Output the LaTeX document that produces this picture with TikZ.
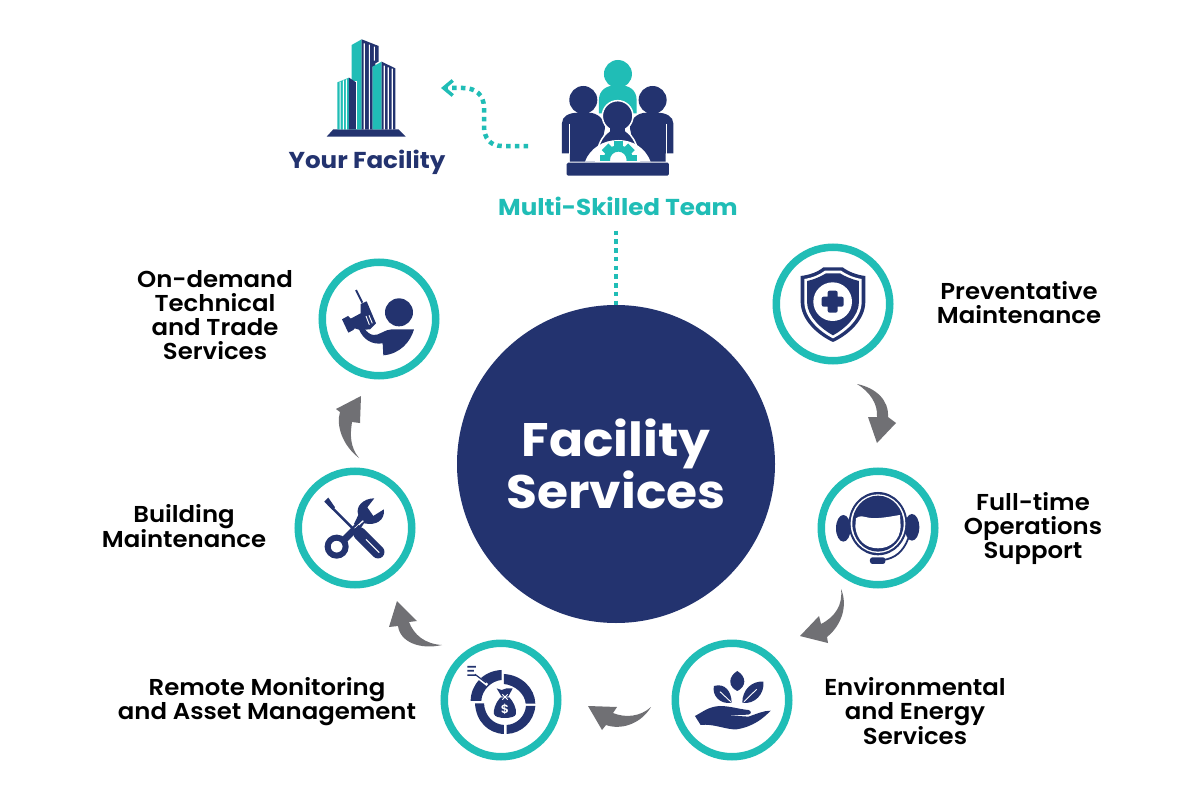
\documentclass[tikz,border=0pt]{standalone}
\usepackage{fontspec}
\setmainfont{Poppins}[FakeStretch=1.06, BoldFont={Poppins SemiBold}]
\newfontfamily\heavyfont{Poppins}[FakeStretch=1.07]
\usetikzlibrary{arrows.meta}
\definecolor{navy}{HTML}{23336F}
\definecolor{teal}{HTML}{20BDB6}
\definecolor{swoopgray}{HTML}{707074}
\tikzset{
	ring/.style={circle, draw=teal, line width=7.5pt, fill=white, minimum size=113.5pt, inner sep=0pt, outer sep=0pt},
	caption/.style={align=center, font=\bfseries\fontsize{23}{24}\selectfont, text=black, inner sep=0pt},
	headline/.style={align=center, font=\heavyfont\bfseries\fontsize{23}{24}\selectfont, inner sep=0pt},
	dotted line/.style={teal, line width=4.5pt, dash pattern=on 4.5pt off 4.25pt},
	swoop/.style={fill=swoopgray},
	icon/.style={fill=navy},
	gap/.style={draw=white, line width=1.3pt},
}
\begin{document}
\begin{tikzpicture}[x=1pt, y=-1pt]
	\useasboundingbox (0,0) rectangle (1200,800);
	\fill[white] (0,0) rectangle (1200,800);

	\node[circle, fill=navy, minimum size=318pt, inner sep=0pt, outer sep=0pt, align=center, text=white, font=\heavyfont\bfseries\fontsize{47}{52}\selectfont] (core) at (616,464) {Facility\\Services};

	\node[ring] (prevent) at (833,304) {};
	\node[ring] (support) at (878,528) {};
	\node[ring] (energy) at (732,700) {};
	\node[ring] (remote) at (501,700) {};
	\node[ring] (building) at (355,528) {};
	\node[ring] (trade) at (379,319) {};

	\node[caption] (preventtext) at (1019,303) {Preventative\\Maintenance};
	\node[caption] (supporttext) at (1033,529) {Full-time\\Operations\\Support};
	\node[caption] (energytext) at (915,711) {Environmental\\and Energy\\Services};
	\node[caption] (remotetext) at (267,702) {Remote Monitoring\\and Asset Management};
	\node[caption] (buildingtext) at (184,526) {Building\\Maintenance};
	\node[caption] (tradetext) at (215,315) {On-demand\\Technical\\and Trade\\Services};
	\node[headline, text=navy] (facilitytext) at (367,162) {Your Facility};
	\node[headline, text=teal] (teamtext) at (618,206) {Multi-Skilled Team};

	% dotted connectors
	\coordinate (teamout) at (528,146);
	\coordinate (facilityin) at (441,88);
	\coordinate (teamfoot) at (616,230.5);
	\draw[dotted line] (teamfoot) -- (core.north);
	\draw[dotted line, -{Straight Barb[length=9pt, width=15pt, line width=3.5pt]}] (teamout) -- (502,146) .. controls (490,146) and (484,138) .. (484,126) -- (484,108) .. controls (484,95) and (476,88) .. (463,88) -- (facilityin);

	% swoops between the rings
	\fill[swoop] (857,384) .. controls (876,388) and (889,400) .. (888,417) -- (896,423) -- (877,443) -- (868,417) -- (877,417) .. controls (878,404) and (870,392) .. (857,384) -- cycle;
	\fill[swoop] (841,589) .. controls (848,605) and (842,625) .. (827,637) -- (828,643) -- (800,636) -- (819,616) -- (821,624) .. controls (835,617) and (843,605) .. (841,589) -- cycle;
	\fill[swoop] (651,707) .. controls (640,725) and (620,730) .. (606,725) -- (602,730) -- (588,706) -- (617,707) -- (613,713) .. controls (625,718) and (640,717) .. (651,707) -- cycle;
	\fill[swoop] (442,645) .. controls (420,650) and (400,642) .. (398,626) -- (389,627) -- (397,601) -- (417,621) -- (409,622) .. controls (414,635) and (425,644) .. (442,645) -- cycle;
	\fill[swoop] (359,458) .. controls (342,445) and (336,425) .. (340,412) -- (336,409) -- (361,396) -- (360,423) -- (352,422) .. controls (350,435) and (350,447) .. (359,458) -- cycle;

	% building
	\begin{scope}[shift={(270,20)}, scale=0.3333]
		\fill[navy] (170,350) -- (190,328) -- (385,328) -- (407,350) -- cycle;
		\fill[teal] (245,75) -- (275,58) -- (275,328) -- (245,328) -- cycle;
		\fill[navy] (275,58) -- (326,78) -- (326,125) -- (316,130) -- (316,140) -- (308,140) -- (308,328) -- (275,328) -- cycle;
		\fill[white] (281,70) rectangle (285,328) (297,74) rectangle (300,328) (312,80) rectangle (315,122);
		\fill[teal] (308,140) -- (335,125) -- (335,328) -- (308,328) -- cycle;
		\fill[navy] (335,125) -- (376,145) -- (376,328) -- (335,328) -- cycle;
		\fill[white] (341,137) rectangle (345,328) (353,142) rectangle (357,328) (365,146) rectangle (369,328);
		\fill[white] (198,183) rectangle (262,328);
		\fill[teal] (202,187) -- (237,173) -- (237,328) -- (202,328) -- cycle;
		\fill[white] (209,185) rectangle (212,328) (219,181) rectangle (222,328) (228,178) rectangle (231,328);
		\fill[navy] (237,173) -- (258,187) -- (258,328) -- (237,328) -- cycle;
	\end{scope}

	% team
	\begin{scope}[shift={(270,20)}, scale=0.3333]
		\fill[teal] (1044,162) circle (42);
		\fill[teal] (987,280) -- (987,240) .. controls (987,210) and (1010,195) .. (1044,195) .. controls (1078,195) and (1100,210) .. (1100,240) -- (1100,280) -- cycle;
		\fill[navy] (940,240) circle (42) (1148,240) circle (42);
		\fill[icon] (876,400) -- (876,310) .. controls (876,290) and (895,278) .. (925,278) -- (955,278) .. controls (985,278) and (1005,300) .. (1005,325) -- (985,425) -- (900,425) -- (900,400) -- cycle;
		\fill[icon] (1210,400) -- (1210,310) .. controls (1210,290) and (1190,278) .. (1160,278) -- (1130,278) .. controls (1100,278) and (1080,300) .. (1080,325) -- (1100,425) -- (1187,425) -- (1187,400) -- cycle;
		\draw[gap] (898,312) -- (898,402) (1189,312) -- (1189,402);
		\fill[navy, draw=white, line width=1.5pt] (978,425) .. controls (978,375) and (1005,325) .. (1043,325) .. controls (1081,325) and (1108,375) .. (1108,425) -- cycle;
		\fill[navy, draw=white, line width=1.5pt] (1043,288) circle (46);
		\fill[navy] (1020,322) rectangle (1066,350);
		\fill[white] (945,425) .. controls (960,385) and (1000,360) .. (1045,360) .. controls (1090,360) and (1127,385) .. (1142,425) -- cycle;
		\begin{scope}
			\clip (900,360) rectangle (1190,423);
			\fill[teal, even odd rule] (1045,420) circle (44) (1045,420) circle (25);
			\foreach \tooth in {0,45,90,135,180} {
				\fill[teal, rotate around={\tooth:(1045,420)}] (1082,406) rectangle (1101,434);
			}
		\end{scope}
		\fill[navy, rounded corners=1.5pt] (890,428) rectangle (1197,467);
	\end{scope}

	% shield
	\begin{scope}[shift={(760,240)}, scale=0.3333]
		\fill[navy] (122,108) .. controls (150,105) and (175,95) .. (190,82) -- (248,82) .. controls (265,95) and (290,105) .. (316,108) -- (316,185) .. controls (316,240) and (265,285) .. (219,306) .. controls (173,285) and (122,240) .. (122,185) -- cycle;
		\fill[white] (133,117) .. controls (160,113) and (180,103) .. (195,92) -- (243,92) .. controls (258,103) and (280,113) .. (305,117) -- (305,185) .. controls (305,235) and (258,275) .. (219,295) .. controls (180,275) and (133,235) .. (133,185) -- cycle;
		\fill[navy] (141,123) .. controls (165,118) and (185,108) .. (198,100) -- (240,100) .. controls (253,108) and (275,118) .. (297,123) -- (297,185) .. controls (297,230) and (252,268) .. (219,286) .. controls (186,268) and (141,230) .. (141,185) -- cycle;
		\fill[white] (218,185) circle (58);
		\fill[navy, rounded corners=2pt] (203,152) rectangle (233,218) (185,170) rectangle (251,200);
	\end{scope}

	% headset
	\begin{scope}[shift={(760,240)}, scale=0.3333]
		\fill[navy] (250,865) ellipse (22 and 40) (456,862) ellipse (22 and 40);
		\fill[navy] (354,851) ellipse (88 and 95);
		\fill[white] (354,851) ellipse (82 and 88);
		\fill[navy] (354,851) ellipse (77 and 84);
		\fill[white] (288,835) .. controls (300,825) and (310,830) .. (325,833) .. controls (350,838) and (390,830) .. (420,825) -- (422,860) .. controls (420,900) and (392,925) .. (354,925) .. controls (316,925) and (290,900) .. (286,860) -- cycle;
		\draw[navy, line width=1.8pt] (445,895) .. controls (430,935) and (405,955) .. (370,960);
		\fill[navy, rounded corners=2.5pt] (330,952) rectangle (376,972);
	\end{scope}

	% hand and leaves
	\begin{scope}[shift={(380,590)}, scale=0.3333]
		\fill[navy] (1072,243) .. controls (1100,260) and (1100,290) .. (1072,303) .. controls (1044,290) and (1044,260) .. (1072,243) -- cycle;
		\fill[navy] (1002,288) .. controls (1035,278) and (1055,305) .. (1055,338) .. controls (1020,345) and (995,315) .. (1002,288) -- cycle;
		\fill[navy] (1150,275) .. controls (1115,272) and (1087,300) .. (1087,338) .. controls (1125,345) and (1155,310) .. (1150,275) -- cycle;
		\draw[white, line width=0.9pt] (1020,305) -- (1052,335) (1130,298) -- (1092,335);
		\fill[navy] (945,378) .. controls (970,365) and (985,350) .. (1020,348) .. controls (1050,348) and (1080,358) .. (1105,360) .. controls (1115,362) and (1115,372) .. (1105,374) -- (1045,376) -- (1105,380) .. controls (1130,372) and (1150,362) .. (1172,362) .. controls (1150,385) and (1120,410) .. (1070,418) .. controls (1040,420) and (1000,400) .. (962,405) -- cycle;
	\end{scope}

	% money bag on chart
	\begin{scope}[shift={(380,590)}, scale=0.3333]
		\fill[navy] (372,252) .. controls (425,255) and (465,295) .. (466,341) -- (437,341) .. controls (435,312) and (405,285) .. (372,282) -- cycle;
		\fill[navy] (466,348) .. controls (462,395) and (425,430) .. (380,432) -- (380,405) .. controls (410,403) and (435,380) .. (438,348) -- cycle;
		\fill[navy] (372,432) .. controls (325,430) and (288,395) .. (285,340) -- (312,340) .. controls (314,378) and (340,403) .. (372,405) -- cycle;
		\fill[navy] (365,240) -- (365,270) .. controls (335,272) and (305,300) .. (304,333) -- (272,333) .. controls (272,285) and (310,242) .. (365,240) -- cycle;
		\draw[white, line width=2.6pt] (280,252) -- (322,285);
		\draw[navy, line width=1.2pt] (285,253) -- (318,278);
		\fill[navy] (262,228) rectangle (288,233) (262,240) rectangle (282,245) (262,253) rectangle (288,258);
		\fill[navy] (350,295) -- (365,300) -- (380,295) -- (398,295) -- (385,320) -- (365,320) -- cycle;
		\fill[navy] (362,322) .. controls (345,340) and (340,360) .. (342,372) .. controls (345,388) and (405,388) .. (408,372) .. controls (410,355) and (400,335) .. (388,322) -- cycle;
		\draw[white, line width=0.8pt] (367,313) -- (383,329) (383,313) -- (367,329);
		\node[text=white, font=\bfseries\fontsize{12}{12}\selectfont, inner sep=0pt] (bagsign) at (375,359) {\$};
	\end{scope}

	% tools
	\begin{scope}[shift={(280,250)}, scale=0.3333]
		\draw[navy, line width=6pt] (170,890) circle (27);
		\draw[navy, line width=7pt] (192,870) -- (232,830);
		\fill[navy] (222,822) -- (235,795) .. controls (225,770) and (250,745) .. (283,745) -- (262,772) -- (280,798) -- (312,778) .. controls (315,810) and (290,828) .. (252,820) -- (240,838) -- cycle;
		\draw[white, line width=1.3pt] (222,838) -- (250,812);
		\draw[navy, line width=2.6pt] (145,762) -- (225,842);
		\fill[navy] (133,755) -- (145,743) -- (165,772) -- (158,780) -- cycle;
		\fill[navy] (212,848) -- (236,825) -- (256,845) -- cycle;
		\draw[navy, line width=13pt, line cap=round] (240,852) -- (294,906);
		\draw[white, line width=1pt] (258,868) -- (298,908);
	\end{scope}

	% worker with drill
	\begin{scope}[shift={(320,280)}, scale=0.3333]
		\fill[navy] (237,97) circle (42);
		\fill[navy] (118,150) .. controls (130,178) and (155,195) .. (188,190) -- (190,226) .. controls (240,222) and (272,185) .. (282,148) -- (215,148) .. controls (195,148) and (175,168) .. (160,165) .. controls (148,163) and (140,155) .. (133,145) -- cycle;
		\draw[navy, line width=2pt] (108,30) -- (127,68);
		\fill[navy] (122,72) -- (140,64) -- (168,130) -- (150,148) -- (120,150) -- (104,145) -- (100,150) -- (85,158) -- (66,118) -- (84,108) -- (92,116) -- (122,100) -- cycle;
		\draw[white, line width=0.9pt] (138,108) -- (148,134) (147,106) -- (157,130);
	\end{scope}
\end{tikzpicture}
\end{document}
